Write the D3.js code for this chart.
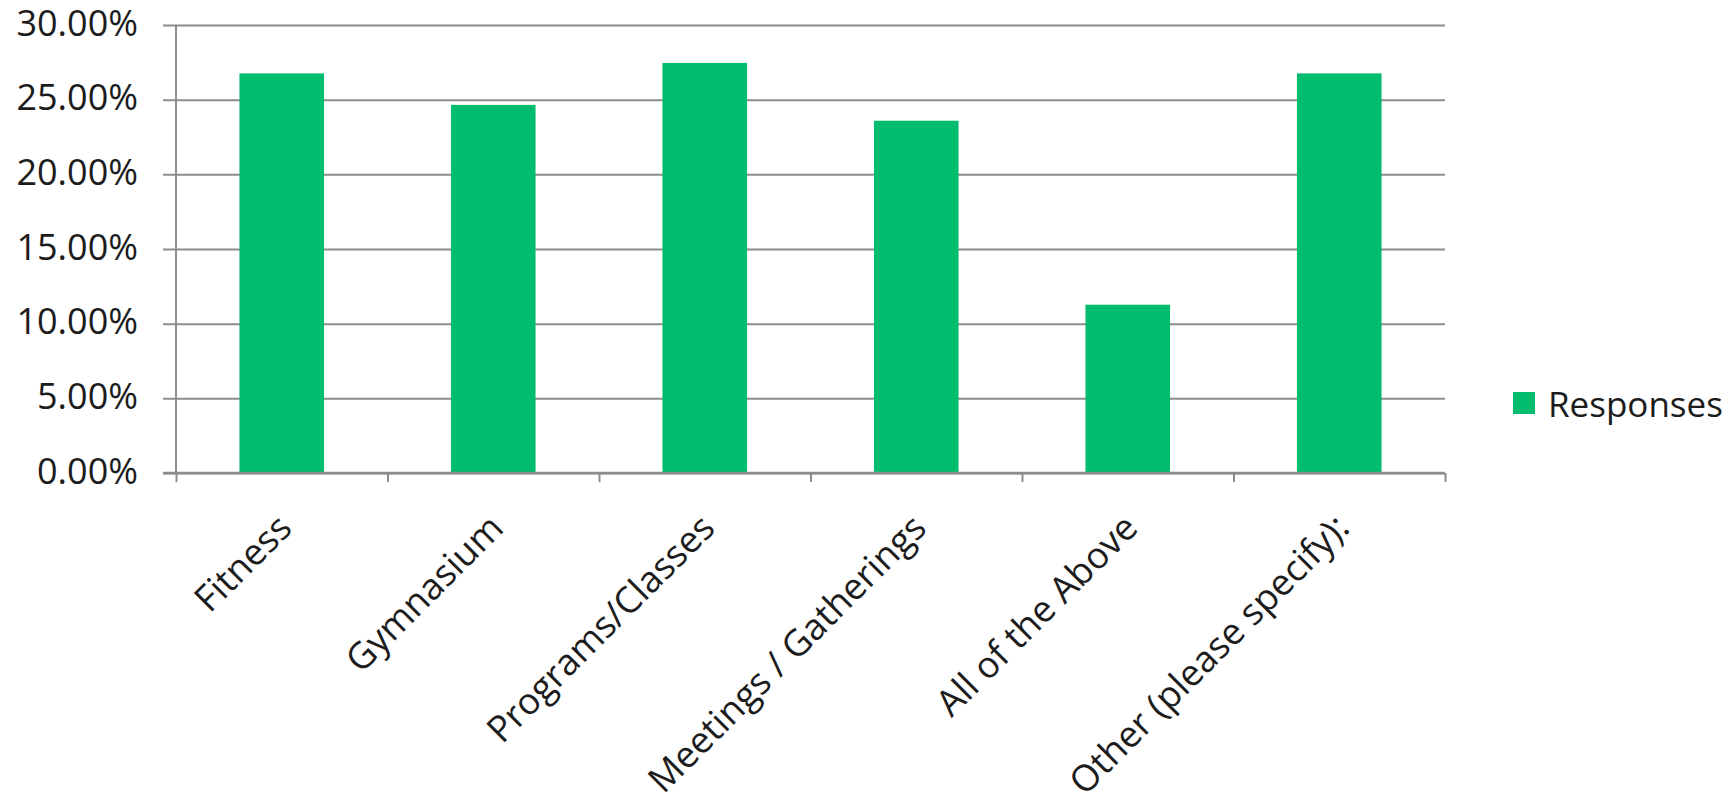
<!DOCTYPE html>
<html>
<head>
<meta charset="utf-8">
<script src="https://cdn.jsdelivr.net/npm/d3@7"></script>
<style>
  html, body { margin: 0; padding: 0; background: #fff; }
  svg { display: block; font-family: "Open Sans", sans-serif; }
</style>
</head>
<body>
<svg id="chart" width="1731" height="802"></svg>
<script>
var categories = ["Fitness", "Gymnasium", "Programs/Classes", "Meetings / Gatherings", "All of the Above", "Other (please specify):"];
var responses = [0.2676, 0.2465, 0.2746, 0.2359, 0.1127, 0.2676];
var yTicks = [0, 0.05, 0.10, 0.15, 0.20, 0.25, 0.30];
var seriesName = "Responses";

var margin = {top: 25, left: 176, right: 286, bottom: 329},
  outerWidth = 1731,
  outerHeight = 802,
  innerWidth = outerWidth - margin.left - margin.right,
  innerHeight = outerHeight - margin.top - margin.bottom,
  barColor = "#02bd6d",
  gridColor = "#8c8c8c",
  textColor = "#1c1c1c";

var svg = d3.select("#chart");

var chartInner = svg.append("g")
  .attr("class", "margin-offset")
  .attr("transform", "translate(" + margin.left + "," + margin.top + ")");

var y = d3.scaleLinear()
  .domain([0, 0.30])
  .range([innerHeight, 0]);

var x = d3.scaleBand()
  .domain(categories)
  .range([0, innerWidth])
  .paddingInner(0.6)
  .paddingOuter(0.3);

var xEdge = d3.scaleLinear()
  .domain([0, categories.length])
  .range([0, innerWidth]);

// gridlines (they poke out a little left of the axis, like ticks)
var grid = chartInner.append("g")
  .attr("class", "grid")
  .attr("transform", "translate(-13,0)")
  .call(d3.axisRight(y).tickValues(yTicks).tickSize(innerWidth + 13).tickFormat(""));
grid.select(".domain").remove();
grid.selectAll("line")
  .attr("stroke", gridColor)
  .attr("stroke-width", 2);

// y labels
var yAxisObj = chartInner.append("g")
  .attr("class", "y axis")
  .call(d3.axisLeft(y).tickValues(yTicks).tickSize(0).tickPadding(38).tickFormat(d3.format(".2%")));
yAxisObj.select(".domain").remove();
yAxisObj.selectAll("text")
  .attr("fill", textColor)
  .attr("font-size", "36px")
  .attr("font-family", "'Open Sans', sans-serif")
  .attr("dy", "0.28em");

// left axis line
chartInner.append("line")
  .attr("x1", 0).attr("x2", 0)
  .attr("y1", y(0.30)).attr("y2", y(0))
  .attr("stroke", gridColor)
  .attr("stroke-width", 2);

// bars
chartInner.append("g")
  .attr("class", "data")
  .selectAll("rect")
  .data(categories)
  .enter()
  .append("rect")
    .attr("x", function(d) { return x(d); })
    .attr("width", x.bandwidth())
    .attr("y", function(d, i) { return y(responses[i]); })
    .attr("height", function(d, i) { return y(0) - y(responses[i]); })
    .attr("fill", barColor);

// x axis with boundary ticks
var xAxisObj = chartInner.append("g")
  .attr("class", "x axis")
  .attr("transform", "translate(0," + innerHeight + ")")
  .call(d3.axisBottom(xEdge).tickValues(d3.range(categories.length + 1)).tickSize(9).tickFormat(""));
xAxisObj.select(".domain")
  .attr("d", "M-13,0H" + innerWidth)
  .attr("stroke", gridColor)
  .attr("stroke-width", 2.5);
xAxisObj.selectAll("line")
  .attr("stroke", gridColor)
  .attr("stroke-width", 2);

// category labels
chartInner.append("g")
  .attr("class", "x-labels")
  .selectAll("text")
  .data(categories)
  .enter()
  .append("text")
    .attr("transform", function(d) {
      return "translate(" + (x(d) + x.bandwidth() / 2 - 6) + "," + (innerHeight + 39) + ") rotate(-45)";
    })
    .attr("text-anchor", "end")
    .attr("dy", "0.7em")
    .attr("fill", textColor)
    .attr("font-size", "36.5px")
    .text(function(d) { return d; });

// legend
var legend = svg.append("g")
  .attr("class", "legend")
  .attr("transform", "translate(1513,392)");
legend.append("rect")
  .attr("width", 22)
  .attr("height", 22)
  .attr("fill", barColor);
legend.append("text")
  .attr("x", 35)
  .attr("y", 25)
  .attr("fill", textColor)
  .attr("font-size", "35px")
  .text(seriesName);
</script>
</body>
</html>
